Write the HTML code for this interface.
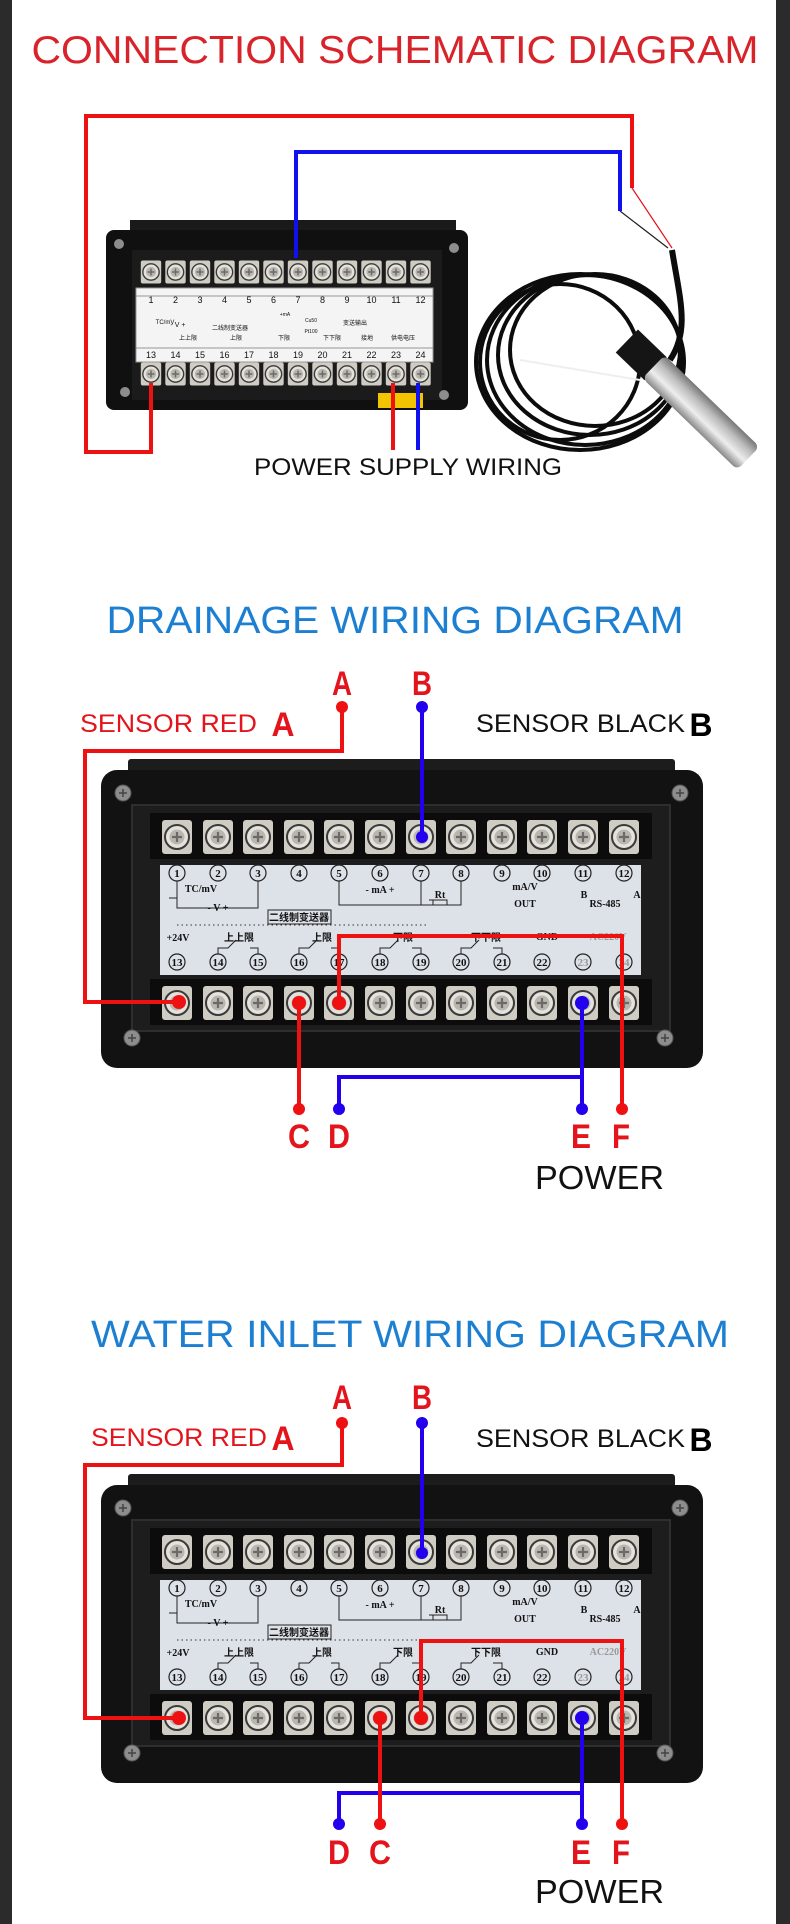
<!DOCTYPE html>
<html><head><meta charset="utf-8"><style>
html,body{margin:0;padding:0;background:#fff;}
svg{display:block;}
text{font-family:"Liberation Sans","Noto Sans CJK SC",sans-serif;}
.n{font-family:"Liberation Serif","Noto Serif CJK SC",serif;font-weight:bold;font-size:11px;text-anchor:middle;}
.l{font-family:"Liberation Serif","Noto Sans CJK SC",serif;font-weight:bold;font-size:10px;text-anchor:middle;}
.big{font-weight:bold;font-size:34px;text-anchor:middle;fill:#e3141c;}
</style></head><body>
<svg width="790" height="1924" viewBox="0 0 790 1924" xmlns="http://www.w3.org/2000/svg">
<defs>
<g id="t"><rect x="-15" y="-17" width="30" height="34" rx="3" fill="#cfccc4"/><circle r="12" fill="#e4e2dc" stroke="#3a3a3a" stroke-width="2"/><circle r="7.5" fill="#b9b6ae"/><path d="M-5 0H5M0-5V5" stroke="#6a6a6a" stroke-width="2.2"/></g>
<g id="c"><circle r="8" fill="none" stroke="#222" stroke-width="1.2"/></g>
<g id="sc"><circle r="8" fill="#8d8d8d" stroke="#555"/><path d="M-4 0H4M0-4V4" stroke="#444" stroke-width="1.5"/></g>
<linearGradient id="steel" x1="0" y1="0" x2="1" y2="0"><stop offset="0" stop-color="#888"/><stop offset=".35" stop-color="#eee"/><stop offset=".7" stop-color="#bbb"/><stop offset="1" stop-color="#777"/></linearGradient>
</defs>
<rect x="0" y="0" width="12" height="1924" fill="#2b2b2b"/>
<rect x="776" y="0" width="14" height="1924" fill="#2b2b2b"/>

<!-- ===== Section 1 ===== -->
<text x="395" y="63" font-size="39" fill="#d9232b" text-anchor="middle" textLength="727" lengthAdjust="spacingAndGlyphs">CONNECTION SCHEMATIC DIAGRAM</text>
<!-- coil -->
<g fill="none" stroke="#0c0c0c" stroke-width="4">
<ellipse cx="585" cy="360" rx="98" ry="85"/>
<ellipse cx="590" cy="355" rx="92" ry="80"/>
<ellipse cx="580" cy="362" rx="104" ry="88"/>
<ellipse cx="595" cy="350" rx="85" ry="76"/>
<ellipse cx="560" cy="362" rx="80" ry="78"/>
<path d="M672 250 C680 300 690 330 670 360" stroke-width="6"/>
</g>
<path d="M632 188 L672 248" stroke="#e3141c" stroke-width="1.2"/>
<path d="M620 211 L668 248" stroke="#222" stroke-width="1.2"/>
<g transform="translate(688 400) rotate(-46)">
<rect x="-16" y="-85" width="32" height="40" fill="#151515"/>
<rect x="-16" y="-48" width="32" height="132" rx="6" fill="url(#steel)"/>
</g>
<path d="M520 360 L640 380" stroke="#eee" stroke-width="2"/>
<!-- device 1 -->
<rect x="130" y="220" width="326" height="14" fill="#1a1a1a"/>
<rect x="106" y="230" width="362" height="180" rx="8" fill="#101010"/>
<rect x="132" y="250" width="310" height="150" fill="#1b1b1b"/>
<g transform="translate(0 0)">
<use href="#t" transform="translate(151 272) scale(.68)"/><use href="#t" transform="translate(175.5 272) scale(.68)"/><use href="#t" transform="translate(200 272) scale(.68)"/><use href="#t" transform="translate(224.5 272) scale(.68)"/><use href="#t" transform="translate(249 272) scale(.68)"/><use href="#t" transform="translate(273.5 272) scale(.68)"/><use href="#t" transform="translate(298 272) scale(.68)"/><use href="#t" transform="translate(322.5 272) scale(.68)"/><use href="#t" transform="translate(347 272) scale(.68)"/><use href="#t" transform="translate(371.5 272) scale(.68)"/><use href="#t" transform="translate(396 272) scale(.68)"/><use href="#t" transform="translate(420.5 272) scale(.68)"/>
<use href="#t" transform="translate(151 374) scale(.68)"/><use href="#t" transform="translate(175.5 374) scale(.68)"/><use href="#t" transform="translate(200 374) scale(.68)"/><use href="#t" transform="translate(224.5 374) scale(.68)"/><use href="#t" transform="translate(249 374) scale(.68)"/><use href="#t" transform="translate(273.5 374) scale(.68)"/><use href="#t" transform="translate(298 374) scale(.68)"/><use href="#t" transform="translate(322.5 374) scale(.68)"/><use href="#t" transform="translate(347 374) scale(.68)"/><use href="#t" transform="translate(371.5 374) scale(.68)"/><use href="#t" transform="translate(396 374) scale(.68)"/><use href="#t" transform="translate(420.5 374) scale(.68)"/>
</g>
<rect x="136" y="288" width="297" height="74" fill="#f4f4f4" stroke="#999"/>
<g font-size="9" text-anchor="middle" fill="#111">
<text x="151" y="303">1</text><text x="175.5" y="303">2</text><text x="200" y="303">3</text><text x="224.5" y="303">4</text><text x="249" y="303">5</text><text x="273.5" y="303">6</text><text x="298" y="303">7</text><text x="322.5" y="303">8</text><text x="347" y="303">9</text><text x="371.5" y="303">10</text><text x="396" y="303">11</text><text x="420.5" y="303">12</text>
<text x="151" y="358">13</text><text x="175.5" y="358">14</text><text x="200" y="358">15</text><text x="224.5" y="358">16</text><text x="249" y="358">17</text><text x="273.5" y="358">18</text><text x="298" y="358">19</text><text x="322.5" y="358">20</text><text x="347" y="358">21</text><text x="371.5" y="358">22</text><text x="396" y="358">23</text><text x="420.5" y="358">24</text>
<text x="165" y="324" font-size="6">TC/mV</text><text x="178" y="327" font-size="7">- V +</text><text x="285" y="316" font-size="5">+mA</text><text x="311" y="322" font-size="5">Cu50</text><text x="311" y="333" font-size="5">Pt100</text>
<text x="355" y="325" font-size="6">变送输出</text><text x="230" y="330" font-size="6">二线制变送器</text><text x="188" y="340" font-size="6">上上限</text><text x="236" y="340" font-size="6">上限</text><text x="284" y="340" font-size="6">下限</text><text x="332" y="340" font-size="6">下下限</text><text x="367" y="340" font-size="6">接地</text><text x="403" y="340" font-size="6">供电电压</text>
</g>
<path d="M136 296H433M136 348H433" stroke="#777" stroke-width=".8"/>
<rect x="378" y="393" width="45" height="15" fill="#f2c500"/>
<circle cx="119" cy="244" r="5" fill="#8d8d8d"/><circle cx="454" cy="248" r="5" fill="#8d8d8d"/><circle cx="125" cy="392" r="5" fill="#8d8d8d"/><circle cx="444" cy="395" r="5" fill="#8d8d8d"/>
<!-- wires 1 -->
<path d="M151 383V452H86V116H632V188" fill="none" stroke="#ee1111" stroke-width="4"/>
<path d="M296 258V152H620V211" fill="none" stroke="#1111ee" stroke-width="4"/>
<path d="M393 383V450" stroke="#ee1111" stroke-width="4"/>
<path d="M418 383V450" stroke="#1111ee" stroke-width="4"/>
<text x="408" y="475" font-size="24" fill="#111" text-anchor="middle" textLength="308" lengthAdjust="spacingAndGlyphs">POWER SUPPLY WIRING</text>

<!-- ===== Section 2 & 3 devices ===== -->
<g id="devA">
<rect x="128" y="759" width="547" height="20" rx="3" fill="#1c1c1c"/>
<rect x="101" y="770" width="602" height="298" rx="16" fill="#121212"/>
<rect x="132" y="805" width="538" height="226" fill="#1d1d1d" stroke="#2e2e2e" stroke-width="2"/>
<rect x="150" y="813" width="502" height="46" fill="#0c0c0c"/>
<rect x="150" y="979" width="502" height="46" fill="#0c0c0c"/>
<use href="#t" x="177" y="837"/><use href="#t" x="218" y="837"/><use href="#t" x="258" y="837"/><use href="#t" x="299" y="837"/><use href="#t" x="339" y="837"/><use href="#t" x="380" y="837"/><use href="#t" x="421" y="837"/><use href="#t" x="461" y="837"/><use href="#t" x="502" y="837"/><use href="#t" x="542" y="837"/><use href="#t" x="583" y="837"/><use href="#t" x="624" y="837"/>
<use href="#t" x="177" y="1003"/><use href="#t" x="218" y="1003"/><use href="#t" x="258" y="1003"/><use href="#t" x="299" y="1003"/><use href="#t" x="339" y="1003"/><use href="#t" x="380" y="1003"/><use href="#t" x="421" y="1003"/><use href="#t" x="461" y="1003"/><use href="#t" x="502" y="1003"/><use href="#t" x="542" y="1003"/><use href="#t" x="583" y="1003"/><use href="#t" x="624" y="1003"/>
<rect x="160" y="865" width="481" height="110" fill="#dde1e8"/>
<use href="#c" x="177" y="873"/><use href="#c" x="218" y="873"/><use href="#c" x="258" y="873"/><use href="#c" x="299" y="873"/><use href="#c" x="339" y="873"/><use href="#c" x="380" y="873"/><use href="#c" x="421" y="873"/><use href="#c" x="461" y="873"/><use href="#c" x="502" y="873"/><use href="#c" x="542" y="873"/><use href="#c" x="583" y="873"/><use href="#c" x="624" y="873"/>
<use href="#c" x="177" y="962"/><use href="#c" x="218" y="962"/><use href="#c" x="258" y="962"/><use href="#c" x="299" y="962"/><use href="#c" x="339" y="962"/><use href="#c" x="380" y="962"/><use href="#c" x="421" y="962"/><use href="#c" x="461" y="962"/><use href="#c" x="502" y="962"/><use href="#c" x="542" y="962"/><use href="#c" x="583" y="962"/><use href="#c" x="624" y="962"/>
<path d="M177 881V908H258V881M339 881V905H421V881M461 881V905H421M177 898H169M429 900H441" fill="none" stroke="#222" stroke-width="1"/>
<path d="M177 925H428" fill="none" stroke="#333" stroke-dasharray="1.5 3"/>
<rect x="433" y="900" width="14" height="5" fill="none" stroke="#222"/>
<rect x="268" y="910" width="63" height="14" fill="none" stroke="#222"/>
<path d="M218 954V948H228L236 940M250 948H258V954M299 954V948H309L317 940M331 948H339V954M380 954V948H390L398 940M412 948H421V954M461 954V948H471L479 940M493 948H502V954" fill="none" stroke="#222" stroke-width="1"/>
<use href="#sc" x="123" y="793"/><use href="#sc" x="680" y="793"/><use href="#sc" x="132" y="1038"/><use href="#sc" x="665" y="1038"/>
</g>
<g fill="#111">
<text class="n" x="177" y="877">1</text><text class="n" x="218" y="877">2</text><text class="n" x="258" y="877">3</text><text class="n" x="299" y="877">4</text><text class="n" x="339" y="877">5</text><text class="n" x="380" y="877">6</text><text class="n" x="421" y="877">7</text><text class="n" x="461" y="877">8</text><text class="n" x="502" y="877">9</text><text class="n" x="542" y="877" font-size="9">10</text><text class="n" x="583" y="877" font-size="9">11</text><text class="n" x="624" y="877" font-size="9">12</text>
<text class="n" x="177" y="966" font-size="9">13</text><text class="n" x="218" y="966" font-size="9">14</text><text class="n" x="258" y="966" font-size="9">15</text><text class="n" x="299" y="966" font-size="9">16</text><text class="n" x="339" y="966" font-size="9">17</text><text class="n" x="380" y="966" font-size="9">18</text><text class="n" x="421" y="966" font-size="9">19</text><text class="n" x="461" y="966" font-size="9">20</text><text class="n" x="502" y="966" font-size="9">21</text><text class="n" x="542" y="966" font-size="9">22</text><text class="n" x="583" y="966" font-size="9" fill="#999">23</text><text class="n" x="624" y="966" font-size="9" fill="#999">24</text>
<text class="l" x="201" y="892">TC/mV</text><text class="l" x="218" y="911">- V +</text><text class="l" x="380" y="893">- mA +</text><text class="l" x="440" y="898">Rt</text><text class="l" x="525" y="890">mA/V</text><text class="l" x="525" y="907">OUT</text><text class="l" x="605" y="907">RS-485</text><text class="l" x="584" y="898">B</text><text class="l" x="637" y="898">A</text>
<text class="l" x="299" y="921" font-size="9">二线制变送器</text><text class="l" x="178" y="941" font-size="9">+24V</text><text class="l" x="239" y="941">上上限</text><text class="l" x="322" y="941">上限</text><text class="l" x="403" y="941">下限</text><text class="l" x="486" y="941">下下限</text><text class="l" x="547" y="940">GND</text><text class="l" x="608" y="940" fill="#999">AC220V</text>
</g>
<g transform="translate(0 715)">
<use href="#devA"/>
<g fill="#111">
<text class="n" x="177" y="877">1</text><text class="n" x="218" y="877">2</text><text class="n" x="258" y="877">3</text><text class="n" x="299" y="877">4</text><text class="n" x="339" y="877">5</text><text class="n" x="380" y="877">6</text><text class="n" x="421" y="877">7</text><text class="n" x="461" y="877">8</text><text class="n" x="502" y="877">9</text><text class="n" x="542" y="877" font-size="9">10</text><text class="n" x="583" y="877" font-size="9">11</text><text class="n" x="624" y="877" font-size="9">12</text>
<text class="n" x="177" y="966" font-size="9">13</text><text class="n" x="218" y="966" font-size="9">14</text><text class="n" x="258" y="966" font-size="9">15</text><text class="n" x="299" y="966" font-size="9">16</text><text class="n" x="339" y="966" font-size="9">17</text><text class="n" x="380" y="966" font-size="9">18</text><text class="n" x="421" y="966" font-size="9">19</text><text class="n" x="461" y="966" font-size="9">20</text><text class="n" x="502" y="966" font-size="9">21</text><text class="n" x="542" y="966" font-size="9">22</text><text class="n" x="583" y="966" font-size="9" fill="#999">23</text><text class="n" x="624" y="966" font-size="9" fill="#999">24</text>
<text class="l" x="201" y="892">TC/mV</text><text class="l" x="218" y="911">- V +</text><text class="l" x="380" y="893">- mA +</text><text class="l" x="440" y="898">Rt</text><text class="l" x="525" y="890">mA/V</text><text class="l" x="525" y="907">OUT</text><text class="l" x="605" y="907">RS-485</text><text class="l" x="584" y="898">B</text><text class="l" x="637" y="898">A</text>
<text class="l" x="299" y="921" font-size="9">二线制变送器</text><text class="l" x="178" y="941" font-size="9">+24V</text><text class="l" x="239" y="941">上上限</text><text class="l" x="322" y="941">上限</text><text class="l" x="403" y="941">下限</text><text class="l" x="486" y="941">下下限</text><text class="l" x="547" y="940">GND</text><text class="l" x="608" y="940" fill="#999">AC220V</text>
</g>
</g>

<!-- ===== Section 2 text/wires ===== -->
<text x="395" y="633" font-size="38" fill="#1c7fd2" text-anchor="middle" textLength="577" lengthAdjust="spacingAndGlyphs">DRAINAGE WIRING DIAGRAM</text>
<text x="80" y="732" font-size="25" fill="#e3141c" textLength="177" lengthAdjust="spacingAndGlyphs">SENSOR RED</text>
<text x="283" y="736" class="big" font-size="32" textLength="23" lengthAdjust="spacingAndGlyphs">A</text>
<text x="476" y="732" font-size="25" fill="#111" textLength="209" lengthAdjust="spacingAndGlyphs">SENSOR BLACK</text>
<text x="701" y="736" font-size="32" font-weight="bold" fill="#000" text-anchor="middle" textLength="23" lengthAdjust="spacingAndGlyphs">B</text>
<text x="342" y="695" class="big" font-size="30" textLength="20" lengthAdjust="spacingAndGlyphs">A</text>
<text x="422" y="695" class="big" font-size="30" textLength="20" lengthAdjust="spacingAndGlyphs">B</text>
<g fill="none" stroke-width="4">
<path d="M342 707V751H85V1002H179" stroke="#ee1111"/>
<path d="M422 707V837" stroke="#2200ee"/>
<path d="M299 1003V1109" stroke="#ee1111"/>
<path d="M339 1003V936H622V1109" stroke="#ee1111"/>
<path d="M339 1109V1077H582M582 1003V1109" stroke="#2200ee"/>
</g>
<g fill="#ee1111"><circle cx="342" cy="707" r="6"/><circle cx="179" cy="1002" r="7"/><circle cx="299" cy="1003" r="7"/><circle cx="339" cy="1003" r="7"/><circle cx="299" cy="1109" r="6"/><circle cx="622" cy="1109" r="6"/></g>
<g fill="#2200ee"><circle cx="422" cy="707" r="6"/><circle cx="422" cy="837" r="6"/><circle cx="582" cy="1003" r="7"/><circle cx="339" cy="1109" r="6"/><circle cx="582" cy="1109" r="6"/></g>
<g class="big" font-size="36">
<text class="big" x="299" y="1148" font-size="36" textLength="22" lengthAdjust="spacingAndGlyphs">C</text>
<text class="big" x="339" y="1148" font-size="36" textLength="22" lengthAdjust="spacingAndGlyphs">D</text>
<text class="big" x="581" y="1148" font-size="36" textLength="20" lengthAdjust="spacingAndGlyphs">E</text>
<text class="big" x="621" y="1148" font-size="36" textLength="18" lengthAdjust="spacingAndGlyphs">F</text>
</g>
<text x="535" y="1189" font-size="33" fill="#111" textLength="129" lengthAdjust="spacingAndGlyphs">POWER</text>

<!-- ===== Section 3 text/wires ===== -->
<text x="410" y="1347" font-size="38" fill="#1c7fd2" text-anchor="middle" textLength="638" lengthAdjust="spacingAndGlyphs">WATER INLET WIRING DIAGRAM</text>
<text x="91" y="1446" font-size="25" fill="#e3141c" textLength="176" lengthAdjust="spacingAndGlyphs">SENSOR RED</text>
<text x="283" y="1450" class="big" font-size="32" textLength="23" lengthAdjust="spacingAndGlyphs">A</text>
<text x="476" y="1447" font-size="25" fill="#111" textLength="209" lengthAdjust="spacingAndGlyphs">SENSOR BLACK</text>
<text x="701" y="1451" font-size="32" font-weight="bold" fill="#000" text-anchor="middle" textLength="23" lengthAdjust="spacingAndGlyphs">B</text>
<text x="342" y="1409" class="big" font-size="30" textLength="20" lengthAdjust="spacingAndGlyphs">A</text>
<text x="422" y="1409" class="big" font-size="30" textLength="20" lengthAdjust="spacingAndGlyphs">B</text>
<g fill="none" stroke-width="4">
<path d="M342 1423V1465H85V1718H179" stroke="#ee1111"/>
<path d="M422 1423V1553" stroke="#2200ee"/>
<path d="M339 1824V1793H582M582 1718V1824" stroke="#2200ee"/>
<path d="M380 1718V1824" stroke="#ee1111"/>
<path d="M421 1718V1641H622V1824" stroke="#ee1111"/>
</g>
<g fill="#ee1111"><circle cx="342" cy="1423" r="6"/><circle cx="179" cy="1718" r="7"/><circle cx="380" cy="1718" r="7"/><circle cx="421" cy="1718" r="7"/><circle cx="380" cy="1824" r="6"/><circle cx="622" cy="1824" r="6"/></g>
<g fill="#2200ee"><circle cx="422" cy="1423" r="6"/><circle cx="422" cy="1553" r="6"/><circle cx="582" cy="1718" r="7"/><circle cx="339" cy="1824" r="6"/><circle cx="582" cy="1824" r="6"/></g>
<text class="big" x="339" y="1864" font-size="36" textLength="22" lengthAdjust="spacingAndGlyphs">D</text>
<text class="big" x="380" y="1864" font-size="36" textLength="22" lengthAdjust="spacingAndGlyphs">C</text>
<text class="big" x="581" y="1864" font-size="36" textLength="20" lengthAdjust="spacingAndGlyphs">E</text>
<text class="big" x="621" y="1864" font-size="36" textLength="18" lengthAdjust="spacingAndGlyphs">F</text>
<text x="535" y="1903" font-size="33" fill="#111" textLength="129" lengthAdjust="spacingAndGlyphs">POWER</text>
</svg>
</body></html>
